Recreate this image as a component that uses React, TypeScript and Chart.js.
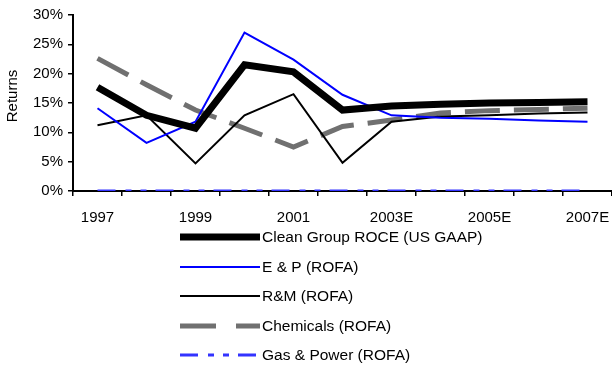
import React, { useEffect, useRef } from "react";
import { Chart, registerables } from "chart.js";

Chart.register(...registerables);

const categories = ["1997", "1998", "1999", "2000", "2001", "2002", "2003E", "2004E", "2005E", "2006E", "2007E"];
const cleanGroup = [17.7, 12.9, 10.7, 21.5, 20.3, 13.8, 14.5, 14.8, 15.0, 15.1, 15.2];
const eAndP = [14.1, 8.2, 11.8, 27.0, 22.4, 16.4, 12.9, 12.5, 12.3, 12.0, 11.8];
const rAndM = [11.2, 12.9, 4.7, 12.9, 16.5, 4.8, 11.8, 12.7, 12.9, 13.2, 13.4];
const chemicals = [22.6, 18.1, 13.8, 10.7, 7.5, 11.0, 12.1, 13.3, 13.7, 13.9, 14.1];
const gasPower = [0, 0, 0, 0, 0, 0, 0, 0, 0, 0, 0];
const seriesNames = [
  "Clean Group ROCE (US GAAP)",
  "E & P (ROFA)",
  "R&M (ROFA)",
  "Chemicals (ROFA)",
  "Gas & Power (ROFA)",
];
const yTitle = "Returns";
const yMin = 0;
const yMax = 30;
const yStep = 5;

const FONT = "'Liberation Sans', Arial, Helvetica, sans-serif";

const legendPlugin = {
  id: "verticalLegend",
  afterDraw(chart: any) {
    const ctx = chart.ctx as CanvasRenderingContext2D;
    // y-axis title
    ctx.save();
    ctx.translate(13, 96);
    ctx.rotate(-Math.PI / 2);
    ctx.fillStyle = "#000";
    ctx.font = `15px ${FONT}`;
    ctx.textAlign = "center";
    ctx.textBaseline = "middle";
    ctx.fillText(yTitle, 0, 0);
    ctx.restore();

    const x0 = 180;
    const x1 = 260;
    const tx = 262;
    const ys = [237, 267, 296, 326, 355];
    chart.data.datasets.forEach((ds: any, i: number) => {
      const y = ys[i];
      ctx.save();
      ctx.strokeStyle = ds.borderColor;
      ctx.lineWidth = ds.borderWidth;
      ctx.lineCap = "butt";
      ctx.setLineDash(ds.legendDash || []);
      ctx.beginPath();
      ctx.moveTo(x0, y);
      ctx.lineTo(x1, y);
      ctx.stroke();
      ctx.setLineDash([]);
      ctx.fillStyle = "#000";
      ctx.font = `15.5px ${FONT}`;
      ctx.textBaseline = "middle";
      ctx.textAlign = "left";
      ctx.fillText(ds.label, tx, y + 1);
      ctx.restore();
    });
  },
};

export default function App() {
  const ref = useRef<HTMLCanvasElement | null>(null);

  useEffect(() => {
    if (!ref.current) return;
    const chart = new Chart(ref.current, {
      type: "line",
      data: {
        labels: categories,
        datasets: [
          {
            label: seriesNames[0],
            data: cleanGroup,
            borderColor: "#000000",
            backgroundColor: "#000000",
            borderWidth: 7,
            pointRadius: 0,
            tension: 0,
          } as any,
          {
            label: seriesNames[1],
            data: eAndP,
            borderColor: "#0000ff",
            backgroundColor: "#0000ff",
            borderWidth: 2,
            pointRadius: 0,
            tension: 0,
          },
          {
            label: seriesNames[2],
            data: rAndM,
            borderColor: "#000000",
            backgroundColor: "#000000",
            borderWidth: 2,
            pointRadius: 0,
            tension: 0,
          },
          {
            label: seriesNames[3],
            data: chemicals,
            borderColor: "#707070",
            backgroundColor: "#707070",
            borderWidth: 5,
            borderDash: [35, 14],
            legendDash: [36, 20],
            pointRadius: 0,
            tension: 0,
          },
          {
            label: seriesNames[4],
            data: gasPower,
            borderColor: "#3333ff",
            backgroundColor: "#3333ff",
            borderWidth: 3,
            borderDash: [18, 10, 6, 9, 6, 9],
            legendDash: [18, 10, 6, 9, 6, 9],
            pointRadius: 0,
            tension: 0,
          },
        ],
      },
      options: {
        responsive: false,
        animation: false,
        devicePixelRatio: 1,
        layout: { padding: { top: 15, right: 0, bottom: 0, left: 0 } },
        plugins: {
          legend: { display: false },
          tooltip: { enabled: false },
        },
        scales: {
          x: {
            type: "category",
            offset: true,
            grid: {
              offset: true,
              drawOnChartArea: false,
              drawTicks: true,
              tickLength: 5,
              color: "#000",
              lineWidth: 1.5,
            },
            border: { color: "#000", width: 2 },
            ticks: {
              autoSkip: false,
              maxRotation: 0,
              minRotation: 0,
              padding: 13,
              color: "#000",
              font: { family: FONT, size: 15 },
              callback: (_v: any, i: number) => (i % 2 === 0 ? categories[i] : ""),
            },
            afterFit: (s: any) => {
              s.height = 174;
              s.paddingLeft = 0;
              s.paddingRight = 0;
            },
          },
          y: {
            min: yMin,
            max: yMax,
            grid: {
              drawOnChartArea: false,
              drawTicks: true,
              tickLength: 5,
              color: "#000",
              lineWidth: 1.5,
            },
            border: { color: "#000", width: 2 },
            ticks: {
              stepSize: yStep,
              padding: 5,
              color: "#000",
              font: { family: FONT, size: 15 },
              callback: (v: any) => `${v}%`,
            },
            title: { display: false },
            afterFit: (s: any) => {
              s.width = 73;
            },
          },
        },
      } as any,
      plugins: [legendPlugin],
    });
    return () => chart.destroy();
  }, []);

  return (
    <div style={{ position: "absolute", left: 0, top: 0, width: 612, height: 365, background: "#fff" }}>
      <canvas ref={ref} width={612} height={365} style={{ width: 612, height: 365, display: "block" }} />
    </div>
  );
}
